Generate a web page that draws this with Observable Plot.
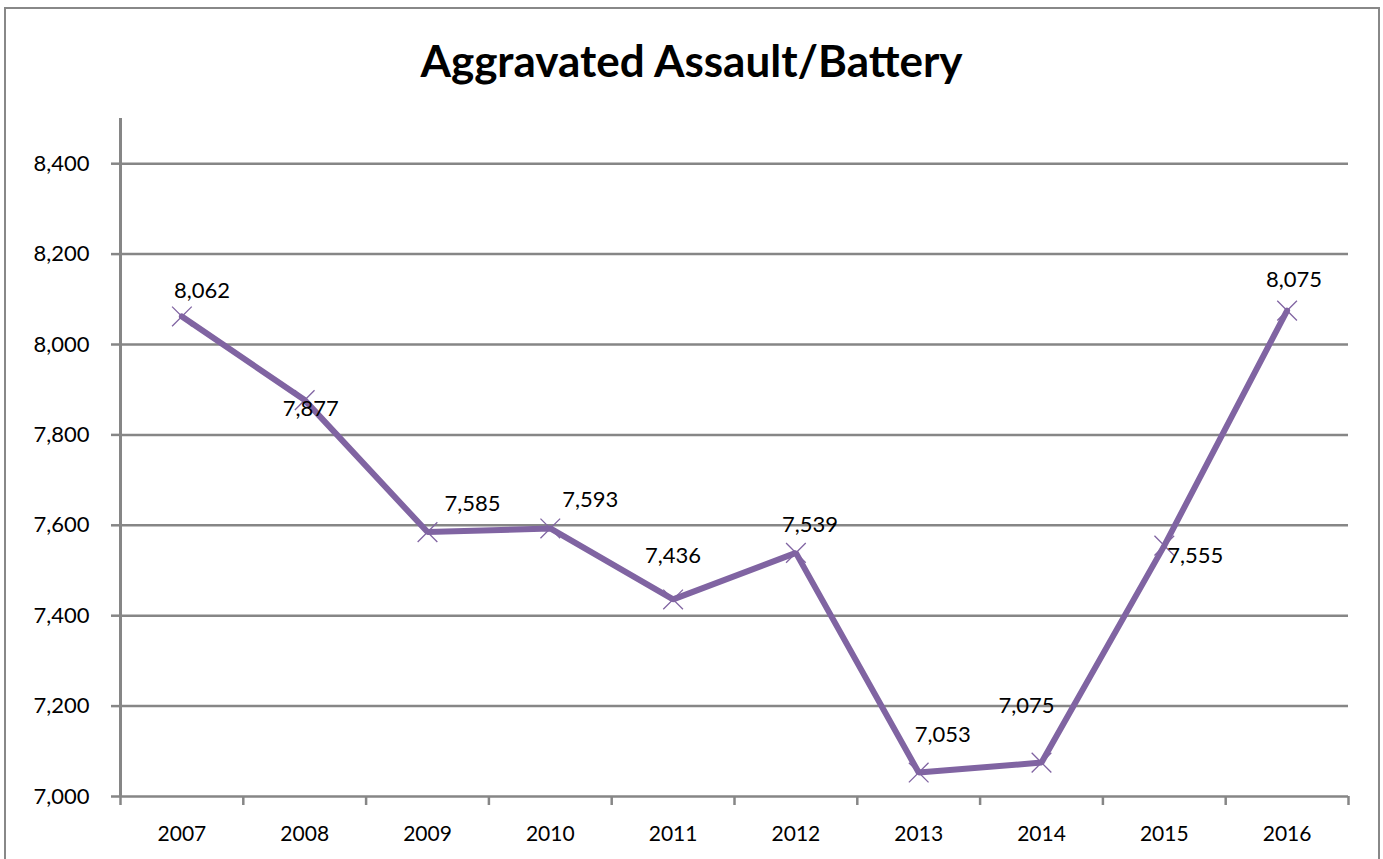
<!DOCTYPE html>
<html><head><meta charset="utf-8">
<script src="https://cdn.jsdelivr.net/npm/d3@7"></script>
<script src="https://cdn.jsdelivr.net/npm/@observablehq/plot@0.6"></script>
<style>
html,body{margin:0;padding:0;background:#fff;width:1383px;height:859px;overflow:hidden;}
#frame{position:absolute;left:4px;top:7px;width:1376px;height:900px;border:2px solid #888;border-bottom:none;box-sizing:border-box;}
#title{position:absolute;left:0;top:35px;width:1383px;height:50px;line-height:50px;text-align:center;font-family:Lato,"Open Sans",sans-serif;font-weight:bold;font-size:44px;color:#000;}
#chart{position:absolute;left:0;top:100px;}
</style></head>
<body>
<div id="frame"></div>
<div id="title">Aggravated Assault/Battery</div>
<div id="chart"></div>
<script>
const years = [2007, 2008, 2009, 2010, 2011, 2012, 2013, 2014, 2015, 2016];
const values = [8062, 7877, 7585, 7593, 7436, 7539, 7053, 7075, 7555, 8075];
const yTicks = [7000, 7200, 7400, 7600, 7800, 8000, 8200, 8400];

const data = years.map((y, i) => ({year: y, value: values[i]}));
const boundaries = years.map(y => y - 0.5).concat([years[years.length - 1] + 0.5]);

// label placement (offsets from the point, like Excel's placements)
const labelOffset = {
  2007: [20, -18], 2008: [6, 16], 2009: [45, -21], 2010: [40, -21], 2011: [0, -36],
  2012: [14, -21], 2013: [24, -31], 2014: [-15, -50], 2015: [31, 17], 2016: [7, -24]
};

const grid = "#868686";
const purple = "#8064A2";
const font = "Lato, 'Open Sans', sans-serif";

const chart = Plot.plot({
  width: 1383,
  height: 759,
  marginLeft: 120,
  marginRight: 35,
  marginTop: 18,
  marginBottom: 63,
  style: {fontFamily: font, fontSize: "21px", color: "#000", background: "transparent"},
  x: {type: "linear", domain: [boundaries[0], boundaries[boundaries.length - 1]]},
  y: {domain: [7000, 8500]},
  marks: [
    Plot.ruleY(yTicks, {stroke: grid, strokeWidth: 2.5}),
    Plot.ruleX([boundaries[0]], {y1: 7000, y2: 8500, stroke: grid, strokeWidth: 3}),
    Plot.axisY({ticks: yTicks, tickFormat: d => d3.format(",")(d), tickSize: 9, tickPadding: 22,
      stroke: grid, strokeWidth: 2.5, strokeOpacity: 1, fontSize: 22, label: null}),
    Plot.axisX({ticks: boundaries, tickFormat: () => "", tickSize: 9, stroke: grid, strokeWidth: 2.5, strokeOpacity: 1, label: null}),
    Plot.axisX({ticks: years, tickFormat: d => String(d), tickSize: 0, tickPadding: 30, fontSize: 21, label: null}),
    Plot.line(data, {x: "year", y: "value", stroke: purple, strokeWidth: 6, strokeLinejoin: "miter"}),
    Plot.dot(data, {x: "year", y: "value", symbol: "times", r: 9, stroke: purple, strokeWidth: 1.3}),
    Plot.text(data, {
      x: "year", y: "value",
      text: d => d3.format(",")(d.value),
      fontSize: 22, fill: "#000",
      render: (index, scales, values, dims, context, next) => {
        const g = next(index, scales, values, dims, context);
        d3.select(g).selectAll("text").each(function(_, k) {
          const i = index[k];
          const off = labelOffset[data[i].year] || [0, 0];
          d3.select(this).attr("transform", `translate(${values.x[i] + off[0]},${values.y[i] + off[1]})`).attr("x", null).attr("y", null);
        });
        return g;
      }
    })
  ]
});
document.getElementById("chart").appendChild(chart);
</script>
</body></html>
